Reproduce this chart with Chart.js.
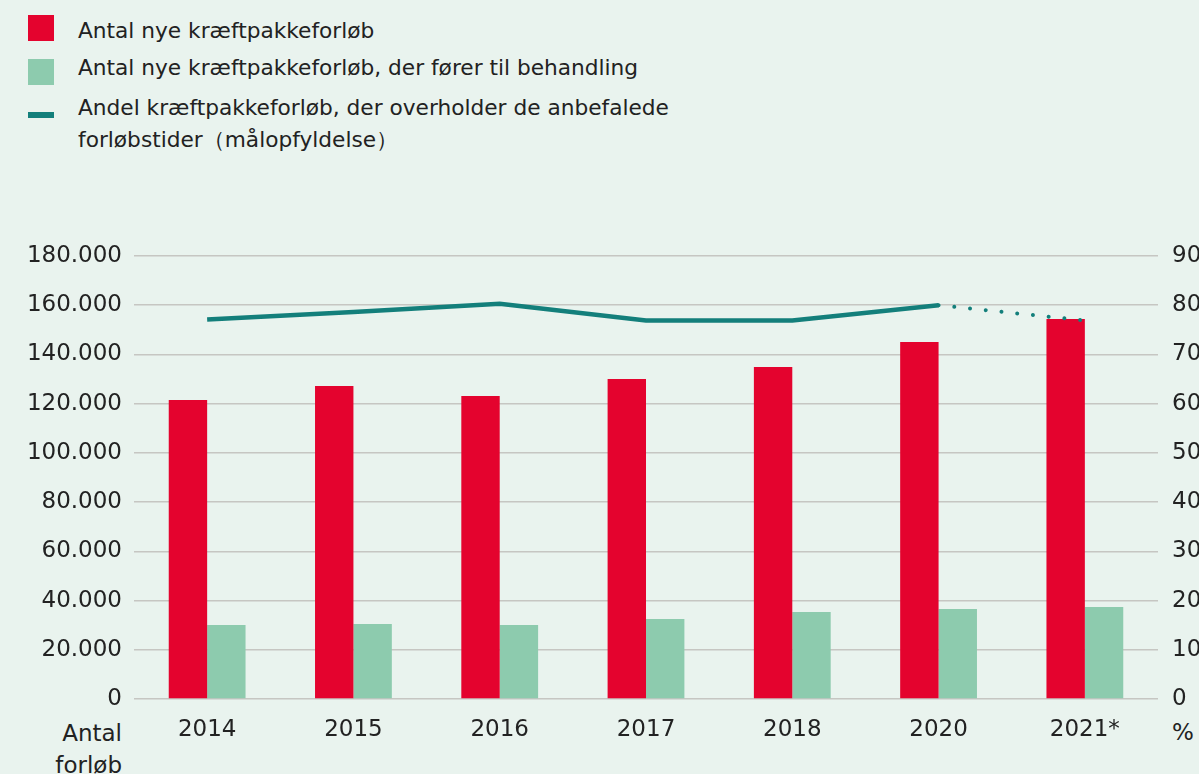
<!DOCTYPE html>
<html>
<head>
<meta charset="utf-8">
<script src="https://cdn.jsdelivr.net/npm/chart.js@4.4.1/dist/chart.umd.min.js"></script>
<style>
  html, body { margin:0; padding:0; width:1199px; height:774px; overflow:hidden; background:#E9F3EE; }
  #wrap { position:absolute; left:0; top:0; width:1240px; height:774px; }
  .leg { position:absolute; font-family:"DejaVu Sans", sans-serif; font-size:21.7px; color:#222; line-height:32px; white-space:nowrap; }
  .sw { position:absolute; }
  .lab { position:absolute; font-family:"DejaVu Sans", sans-serif; font-size:23px; color:#222; }
</style>
</head>
<body>
<div class="sw" style="left:28px;top:15px;width:26px;height:26px;background:#E4032E"></div>
<div class="leg" style="left:78px;top:14.5px">Antal nye kræftpakkeforløb</div>
<div class="sw" style="left:28px;top:59px;width:26px;height:26px;background:#8DCBAE"></div>
<div class="leg" style="left:78px;top:52px">Antal nye kræftpakkeforløb, der fører til behandling</div>
<div class="sw" style="left:28px;top:112px;width:26px;height:6px;background:#137F7B"></div>
<div class="leg" style="left:78px;top:91.5px">Andel kræftpakkeforløb, der overholder de anbefalede<br>forløbstider（målopfyldelse）</div>
<div class="lab" style="right:1077px;top:720px;text-align:right">Antal</div>
<div class="lab" style="right:1077px;top:752px;text-align:right">forløb</div>
<div class="lab" style="left:1172px;top:719px">%</div>
<div id="wrap"><canvas id="c" width="1240" height="774"></canvas></div>
<script>
const categories = ["2014", "2015", "2016", "2017", "2018", "2020", "2021*"];
const newPathways = [121500, 127200, 123100, 130000, 134900, 145100, 154400];
const toTreatment = [30100, 30500, 30100, 32500, 35400, 36600, 37400];
const compliance = [77.1, 78.6, 80.3, 76.9, 76.9, 80.0, null];
const complianceDotted = [null, null, null, null, null, 80.0, 76.9];
const leftTicks = [0, 20000, 40000, 60000, 80000, 100000, 120000, 140000, 160000, 180000];
const rightTicks = [0, 10, 20, 30, 40, 50, 60, 70, 80, 90];

const RED = "#E4032E", GREEN = "#8DCBAE", TEAL = "#137F7B";
const fmt = v => String(v).replace(/\B(?=(\d{3})+(?!\d))/g, ".");
const tickFont = { family: "DejaVu Sans", size: 23 };

new Chart(document.getElementById("c"), {
  type: "bar",
  data: {
    labels: categories,
    datasets: [
      { type: "line", data: compliance, yAxisID: "y1", borderColor: TEAL, borderWidth: 4.5,
        pointRadius: 0, tension: 0, order: 0, borderJoinStyle: "miter" },
      { type: "line", data: complianceDotted, yAxisID: "y1", borderColor: TEAL, borderWidth: 4,
        borderDash: [0.01, 15.8], borderCapStyle: "round", pointRadius: 0, tension: 0, order: 0 },
      { data: newPathways, backgroundColor: RED, yAxisID: "y", order: 1,
        categoryPercentage: 0.525, barPercentage: 1 },
      { data: toTreatment, backgroundColor: GREEN, yAxisID: "y", order: 1,
        categoryPercentage: 0.525, barPercentage: 1 }
    ]
  },
  options: {
    responsive: false,
    animation: false,
    layout: { padding: { top: 256, left: 0, right: 0, bottom: 0 } },
    plugins: { legend: { display: false }, tooltip: { enabled: false } },
    scales: {
      x: {
        grid: { display: false },
        border: { display: false },
        ticks: { font: tickFont, color: "#222", padding: 9, maxRotation: 0 },
        afterFit: s => { s.height = 75; }
      },
      y: {
        position: "left",
        min: 0, max: 180000,
        afterBuildTicks: s => { s.ticks = leftTicks.map(v => ({ value: v })); },
        grid: { color: "#C6C6C2", lineWidth: 1.5, drawTicks: false },
        border: { display: false },
        ticks: { font: tickFont, color: "#222", padding: 12, callback: v => fmt(v) },
        afterFit: s => { s.width = 134; }
      },
      y1: {
        position: "right",
        min: 0, max: 90,
        afterBuildTicks: s => { s.ticks = rightTicks.map(v => ({ value: v })); },
        grid: { display: false, drawTicks: false },
        border: { display: false },
        ticks: { font: tickFont, color: "#222", padding: 14 },
        afterFit: s => { s.width = 82; }
      }
    }
  }
});
</script>
</body>
</html>
